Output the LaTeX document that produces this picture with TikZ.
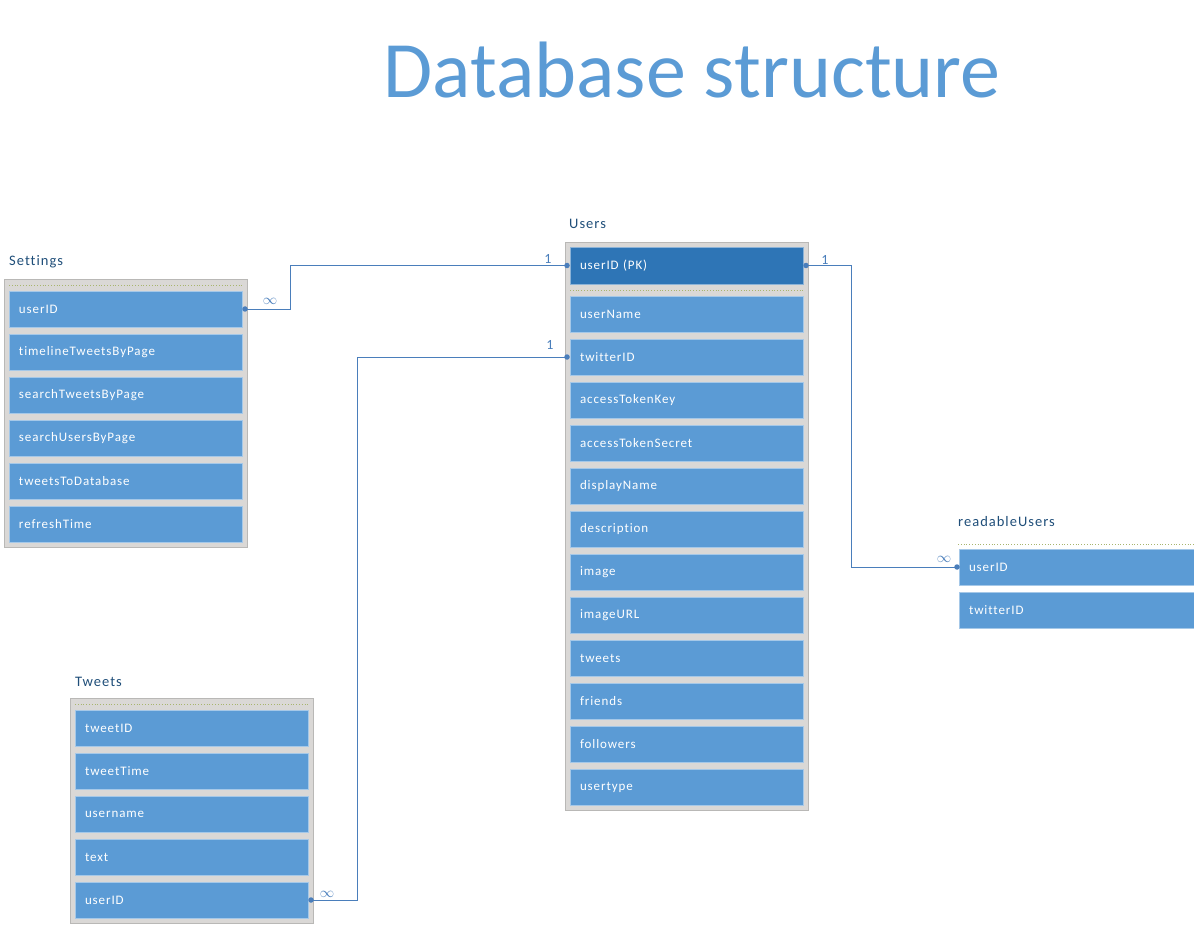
\documentclass[tikz,border=0pt]{standalone}
\usepackage{fontspec}
\setmainfont{Carlito}
\newfontfamily\rowfont[LetterSpace=7,Ligatures=NoCommon]{Carlito}
\usetikzlibrary{positioning,fit,backgrounds,calc}
\definecolor{rowblue}{HTML}{5B9BD5}
\definecolor{keyblue}{HTML}{2E75B6}
\definecolor{framegray}{HTML}{DAD8D6}
\definecolor{titleblue}{HTML}{1F4E79}
\definecolor{linkblue}{HTML}{4A7EBB}
\definecolor{sepgreen}{HTML}{A8B56E}
\begin{document}
\begin{tikzpicture}
[x=1pt,y=-1pt,node distance=7pt,
every node/.style={inner sep=0pt},
field/.style={shape=rectangle,fill=rowblue,draw=rowblue!55!white,line width=.6pt,outer sep=0pt,text=white,
  minimum height=36pt,text width=213pt,inner xsep=10pt,align=left,
  font=\rowfont\fontsize{13}{15}\selectfont},
keyfield/.style={field,fill=keyblue,draw=keyblue!55!white,minimum height=37pt},
tabletitle/.style={text=titleblue,anchor=base west,font=\rowfont\fontsize{14.5}{16}\selectfont},
mult/.style={text=linkblue,font=\fontsize{14}{16}\selectfont},
link/.style={linkblue,line width=.8pt},
linkdot/.style={shape=circle,fill=linkblue,minimum size=5.5pt},
sepline/.style={sepgreen,dotted,line width=.8pt},
every fit/.style={fill=framegray,draw=framegray!85!black,line width=.6pt,inner sep=5pt}]
\useasboundingbox (0,0) rectangle (1194,925);
%%%%% title
\node (title) [anchor=base,text=rowblue,font=\fontsize{80}{90}\selectfont] at (692,98) {Database structure};
%%%%% Users
\node (u0) [keyfield,anchor=north west] at (570,247) {userID (PK)};
\node (u1) [field,below=12pt of u0] {userName};
\node (u2) [field,below=of u1] {twitterID};
\node (u3) [field,below=of u2] {accessTokenKey};
\node (u4) [field,below=of u3] {accessTokenSecret};
\node (u5) [field,below=of u4] {displayName};
\node (u6) [field,below=of u5] {description};
\node (u7) [field,below=of u6] {image};
\node (u8) [field,below=of u7] {imageURL};
\node (u9) [field,below=of u8] {tweets};
\node (u10) [field,below=of u9] {friends};
\node (u11) [field,below=of u10] {followers};
\node (u12) [field,below=of u11] {usertype};
\node [tabletitle] at ([shift={(-1,-18)}]u0.north west) {Users};
%%%%% Settings
\node (s1) [field,anchor=north west] at (9,291) {userID};
\node (s2) [field,below=of s1] {timelineTweetsByPage};
\node (s3) [field,below=of s2] {searchTweetsByPage};
\node (s4) [field,below=of s3] {searchUsersByPage};
\node (s5) [field,below=of s4] {tweetsToDatabase};
\node (s6) [field,below=of s5] {refreshTime};
\node [tabletitle] at ([shift={(0,-25)}]s1.north west) {Settings};
%%%%% Tweets
\node (t1) [field,anchor=north west] at (75,710) {tweetID};
\node (t2) [field,below=of t1] {tweetTime};
\node (t3) [field,below=of t2] {username};
\node (t4) [field,below=of t3] {text};
\node (t5) [field,below=of t4] {userID};
\node [tabletitle] at ([shift={(0,-24)}]t1.north west) {Tweets};
%%%%% readableUsers
\node (r1) [field,anchor=north west,text width=216pt] at (959,549) {userID};
\node (r2) [field,below=of r1,text width=216pt] {twitterID};
\node [tabletitle] at ([shift={(-1,-23)}]r1.north west) {readableUsers};
%% frames
\coordinate (stop) at ([yshift=7pt]s1.north);
\coordinate (ttop) at ([yshift=7pt]t1.north);
\begin{pgfonlayer}{background}
\node (uframe) [fit=(u0)(u12)] {};
\node (sframe) [fit=(s1)(s6)(stop)] {};
\node (tframe) [fit=(t1)(t5)(ttop)] {};
\end{pgfonlayer}
%% separators
\draw[sepline] ($(u0.south west)!.5!(u1.north west)$) -- ($(u0.south east)!.5!(u1.north east)$);
\draw[sepline] ([yshift=6pt]s1.north west) -- ([yshift=6pt]s1.north east);
\draw[sepline] ([yshift=6pt]t1.north west) -- ([yshift=6pt]t1.north east);
\draw[sepline] ([shift={(-1,-5)}]r1.north west) -- ([yshift=5pt]r1.north east);
%%%%% relations
\node (d1) [linkdot] at ([xshift=3pt]s1.east) {};
\node (d2) [linkdot] at ([xshift=-3pt]u0.west) {};
\node (d3) [linkdot] at ([xshift=-3pt]u2.west) {};
\node (d4) [linkdot] at ([xshift=3pt]t5.east) {};
\node (d5) [linkdot] at ([xshift=3pt]u0.east) {};
\node (d6) [linkdot] at ([xshift=-2pt]r1.west) {};
\draw[link] (d1.center) -- ++(45,0) |- (d2.center);
\draw[link] (d3.center) -- ++(-210,0) |- (d4.center);
\draw[link] (d5.center) -- ++(45,0) |- (d6.center);
%% multiplicities
\node [mult] at ([shift={(25,-8)}]d1) {$\infty$};
\node [mult] at ([shift={(-19,-7)}]d2) {1};
\node [mult] at ([shift={(-17,-12)}]d3) {1};
\node [mult] at ([shift={(16,-6)}]d4) {$\infty$};
\node [mult] at ([shift={(19,-6)}]d5) {1};
\node [mult] at ([shift={(-13,-8)}]d6) {$\infty$};
\end{tikzpicture}
\end{document}
